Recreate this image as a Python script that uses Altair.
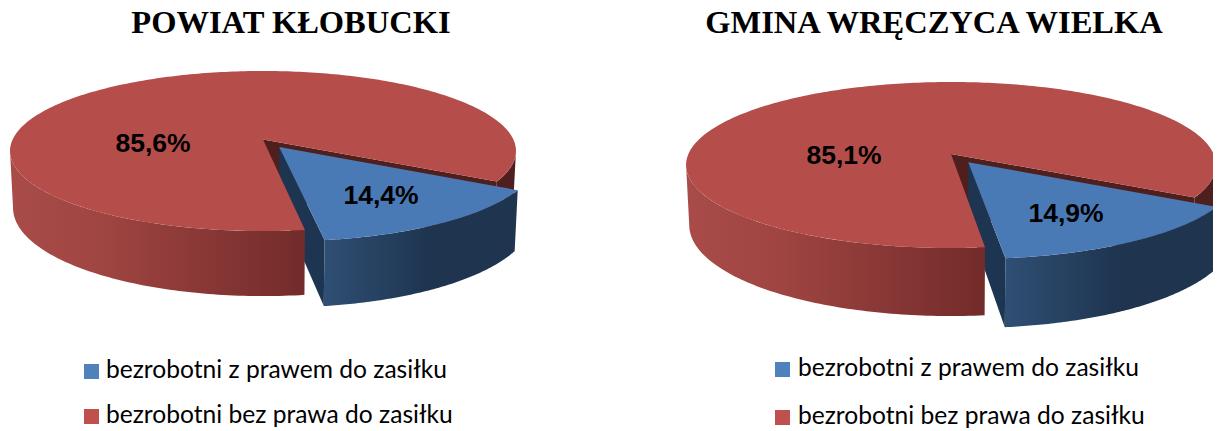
import numpy as np
import pandas as pd
import altair as alt

# ---- values ----
panel_titles = ["POWIAT KŁOBUCKI", "GMINA WRĘCZYCA WIELKA"]
shares_with_benefit = [14.4, 14.9]
shares_without_benefit = [85.6, 85.1]
label_with = ["14,4%", "14,9%"]
label_without = ["85,6%", "85,1%"]
legend_labels = ["bezrobotni z prawem do zasiłku", "bezrobotni bez prawa do zasiłku"]

# ---- drawing parameters (page pixels) ----
W, H = 1205, 420
SX = alt.Scale(domain=[8, 8 + W], range=[0, W], nice=False, zero=False)
SY = alt.Scale(domain=[8, 8 + H], reverse=True, nice=False, zero=False)

BLUE_TOP, RED_TOP = "#4a7ab5", "#b54e4b"
NAVY, BROWN = "#1d3550", "#4f1f1e"
RED_GRAD = alt.Gradient(gradient="linear", x1=0, x2=1, y1=0, y2=0, stops=[
    alt.GradientStop(offset=0, color="#a94c49"),
    alt.GradientStop(offset=0.3, color="#a04542"),
    alt.GradientStop(offset=1, color="#722b2a")])
BLUE_GRAD = alt.Gradient(gradient="linear", x1=0, x2=1, y1=0, y2=0, stops=[
    alt.GradientStop(offset=0, color="#2f4f74"),
    alt.GradientStop(offset=0.55, color="#1e344f"),
    alt.GradientStop(offset=1, color="#1e344f")])

pies = [
    dict(cx=263, y0=139.5, f=1740, g=544.7, d=6.95, h=387, e=0.1135, start=-29.9),
    dict(cx=951, y0=154.0, f=1980, g=615.0, d=7.54, h=445, e=0.118, start=-29.9),
]
XS = 0.988


def project(p, X, Z, low=False):
    s = XS if low else 1.0
    x = p["cx"] + p["f"] * s * X / (p["d"] + Z)
    y = p["y0"] + (-p["g"] * Z + (p["h"] if low else 0.0)) / (p["d"] + Z)
    return x, y


def arc(p, a0, a1, ox=0.0, oz=0.0, low=False, n=90):
    t = np.radians(np.linspace(a0, a1, n))
    return [project(p, ox + np.cos(v), oz + np.sin(v), low) for v in t]


def shape(points, fill):
    df = pd.DataFrame(points, columns=["x", "y"])
    df["i"] = range(len(df))
    return alt.Chart(df).mark_line(fill=fill, stroke="transparent", strokeWidth=0, interpolate="linear").encode(
        x=alt.X("x:Q", scale=SX, axis=None),
        y=alt.Y("y:Q", scale=SY, axis=None),
        order="i:Q",
    )


layers = []
for p, share in zip(pies, shares_with_benefit):
    a_start = p["start"]
    a_end = a_start - share * 3.6          # blue wedge runs clockwise
    mid = np.radians((a_start + a_end) / 2)
    ox, oz = p["e"] * np.cos(mid), p["e"] * np.sin(mid)
    red_end = a_end + 360
    sil = np.degrees(np.arcsin(1 / p["d"]))   # where the rim turns away from the viewer

    # red: back parts (right wall, cut face)
    layers.append(shape(arc(p, a_start, -sil) + arc(p, -sil, a_start, low=True), BROWN))
    c_top = project(p, np.cos(np.radians(a_start)), np.sin(np.radians(a_start)))
    c_low = project(p, np.cos(np.radians(a_start)), np.sin(np.radians(a_start)), True)
    layers.append(shape([project(p, 0, 0), c_top, c_low, project(p, 0, 0, True)], BROWN))

    # blue: cut face, wall, top
    tip, tip_low = project(p, ox, oz), project(p, ox, oz, True)
    e_x, e_z = ox + np.cos(np.radians(a_end)), oz + np.sin(np.radians(a_end))
    layers.append(shape([tip, project(p, e_x, e_z), project(p, e_x, e_z, True), tip_low], NAVY))
    layers.append(shape(arc(p, a_end, a_start, ox, oz) + arc(p, a_start, a_end, ox, oz, True), BLUE_GRAD))
    layers.append(shape([tip] + arc(p, a_start, a_end, ox, oz), BLUE_TOP))

    # red: front wall and top
    layers.append(shape(arc(p, 180 + sil, red_end) + arc(p, red_end, 180 + sil, low=True), RED_GRAD))
    layers.append(shape([project(p, 0, 0)] + arc(p, a_start, red_end, n=300), RED_TOP))


def text_layer(rows, font, size, weight, align="center"):
    df = pd.DataFrame(rows, columns=["x", "y", "t"])
    return alt.Chart(df).mark_text(font=font, fontSize=size, fontWeight=weight, color="#000000",
                                   align=align, baseline="alphabetic").encode(
        x=alt.X("x:Q", scale=SX, axis=None),
        y=alt.Y("y:Q", scale=SY, axis=None),
        text="t:N",
    )


layers.append(text_layer([(291, 33, panel_titles[0]), (934, 33, panel_titles[1])],
                         "Liberation Serif", 32.5, "bold"))
layers.append(text_layer([(153, 152, label_without[0]), (381, 204, label_with[0]),
                          (844, 164, label_without[1]), (1066, 222, label_with[1])],
                         "Liberation Sans", 26.5, "bold"))
layers.append(text_layer([(106, 378, legend_labels[0]), (106, 423, legend_labels[1]),
                          (798, 376, legend_labels[0]), (798, 424, legend_labels[1])],
                         "Lato", 24.6, "normal", "left"))

sq = pd.DataFrame({"x": [84, 84, 775, 775], "y": [364, 409, 362, 410], "c": ["#4f81bd", "#c0504d", "#4f81bd", "#c0504d"]})
sq["x2"], sq["y2"] = sq.x + 15, sq.y + 15
layers.append(alt.Chart(sq).mark_rect().encode(
    x=alt.X("x:Q", scale=SX, axis=None), x2="x2:Q",
    y=alt.Y("y:Q", scale=SY, axis=None), y2="y2:Q",
    color=alt.Color("c:N", scale=None),
))

chart = alt.layer(*layers).properties(
    width=W, height=H, padding=0, autosize=alt.AutoSizeParams(type="none")
).configure_view(stroke=None)
chart.save("out.html", embed_options={"renderer": "svg", "actions": False})
